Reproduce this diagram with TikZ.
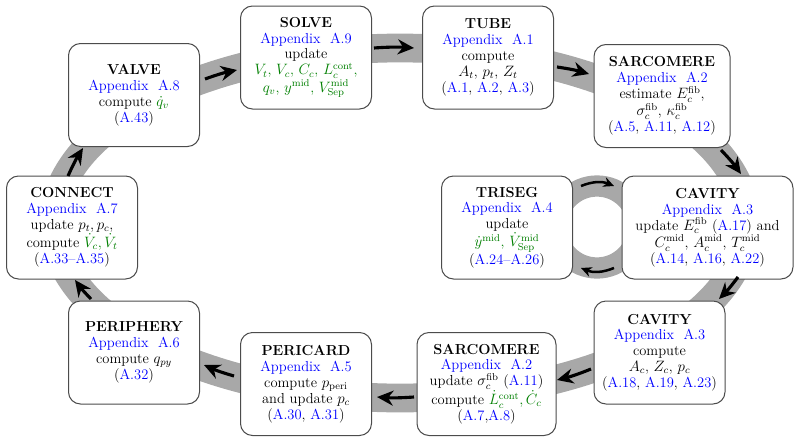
\documentclass[tikz,border=0pt]{standalone}
\usetikzlibrary{arrows.meta}
\definecolor{grn}{RGB}{0,128,0}
\definecolor{lnk}{RGB}{0,0,255}
\definecolor{bandc}{RGB}{168,168,168}
\newcommand{\eqr}[1]{\textcolor{lnk}{#1}}
\newcommand{\grn}[1]{\textcolor{grn}{#1}}
\newcommand{\apx}[1]{\textcolor{lnk}{Appendix~~#1}}
\tikzset{
  modbox/.style={draw=black!70, fill=white, rounded corners=9.6pt, line width=0.8pt,
    align=center, minimum width=104.8pt, minimum height=82.4pt, inner sep=2pt,
    font=\fontsize{11.6}{12.7}\selectfont},
  band/.style={draw=bandc, line width=23pt},
  ringband/.style={draw=bandc, line width=17pt},
  flow/.style={line width=2.5pt, -{Stealth[length=13pt,width=12pt]}},
  ringflow/.style={line width=2pt, -{Stealth[length=8.5pt,width=8pt]}},
}
\begin{document}
\begin{tikzpicture}[x=0.8pt,y=-0.8pt]
\useasboundingbox (0,0) rectangle (800,442);
% bands
\draw[band] (400,223) ellipse [x radius=277pt, y radius=140pt];
\draw[ringband] (597,227) circle [radius=32.8pt];
% nodes
\node[modbox] (valve) at (134,95) {\textbf{VALVE}\\ \apx{A.8}\\ compute \grn{$\dot q_v$}\\ (\eqr{A.43})};
\node[modbox] (solve) at (306,57.5) {\textbf{SOLVE}\\ \apx{A.9}\\ update\\
  \grn{$V_t$, $V_c$, $C_c$, $L_c^{\mathrm{cont}}$,}\\ \grn{$q_v$, $y^{\mathrm{mid}}$, $V_{\mathrm{Sep}}^{\mathrm{mid}}$}};
\node[modbox] (tube) at (488,57.5) {\textbf{TUBE}\\ \apx{A.1}\\ compute\\ $A_t$, $p_t$, $Z_t$\\ (\eqr{A.1}, \eqr{A.2}, \eqr{A.3})};
\node[modbox, minimum width=108.8pt] (sarcA) at (662,96) {\textbf{SARCOMERE}\\ \apx{A.2}\\ estimate $E_c^{\mathrm{fib}}$,\\
  $\sigma_c^{\mathrm{fib}}$, $\kappa_c^{\mathrm{fib}}$\\ (\eqr{A.5}, \eqr{A.11}, \eqr{A.12})};
\node[modbox, minimum width=136.8pt] (cavA) at (707.5,227.5) {\textbf{CAVITY}\\ \apx{A.3}\\ update $E_c^{\mathrm{fib}}$ (\eqr{A.17}) and\\
  $C_c^{\mathrm{mid}}$, $A_c^{\mathrm{mid}}$, $T_c^{\mathrm{mid}}$\\ (\eqr{A.14}, \eqr{A.16}, \eqr{A.22})};
\node[modbox] (triseg) at (507,227.5) {\textbf{TRISEG}\\ \apx{A.4}\\ update\\
  \grn{$\dot y^{\mathrm{mid}}$, $\dot V_{\mathrm{Sep}}^{\mathrm{mid}}$}\\ (\eqr{A.24--A.26})};
\node[modbox] (cavB) at (659.5,352.5) {\textbf{CAVITY}\\ \apx{A.3}\\ compute\\ $A_c$, $Z_c$, $p_c$\\ (\eqr{A.18}, \eqr{A.19}, \eqr{A.23})};
\node[modbox, minimum width=111.2pt] (sarcB) at (486.5,384) {\textbf{SARCOMERE}\\ \apx{A.2}\\ update $\sigma_c^{\mathrm{fib}}$ (\eqr{A.11})\\
  compute \grn{$\dot L_c^{\mathrm{cont}}, \dot C_c$}\\ (\eqr{A.7},\eqr{A.8})};
\node[modbox] (peri) at (306,384) {\textbf{PERICARD}\\ \apx{A.5}\\ compute $p_{\mathrm{peri}}$\\ and update $p_c$\\ (\eqr{A.30}, \eqr{A.31})};
\node[modbox] (periph) at (134,352.5) {\textbf{PERIPHERY}\\ \apx{A.6}\\ compute $q_{py}$\\ (\eqr{A.32})};
\node[modbox] (conn) at (72,227.5) {\textbf{CONNECT}\\ \apx{A.7}\\ update $p_t, p_c$,\\ compute \grn{$\dot V_c, \dot V_t$}\\ (\eqr{A.33--A.35})};
% arrow end points on the band
\coordinate (a1) at (205,79);  \coordinate (b1) at (237,70);
\coordinate (a2) at (374,48);  \coordinate (b2) at (414,48);
\coordinate (a3) at (557,67);  \coordinate (b3) at (589,74);
\coordinate (a4) at (721,150); \coordinate (b4) at (741,174);
\coordinate (a5) at (738,277); \coordinate (b5) at (719,299);
\coordinate (a6) at (591,369); \coordinate (b6) at (557,380);
\coordinate (a7) at (414,397); \coordinate (b7) at (377,397);
\coordinate (a8) at (234,376); \coordinate (b8) at (204,365);
\coordinate (a9) at (91,299);  \coordinate (b9) at (75,280);
\coordinate (a10) at (68,176); \coordinate (b10) at (83,148);
\coordinate (r1) at (581,186); \coordinate (s1) at (614,186);
\coordinate (r2) at (614,268); \coordinate (s2) at (581,268);
\foreach \i in {1,...,10} {\draw[flow] (a\i) to[bend left=4] (b\i);}
\draw[ringflow] (r1) to[bend left=22] (s1);
\draw[ringflow] (r2) to[bend left=22] (s2);
\end{tikzpicture}
\end{document}
